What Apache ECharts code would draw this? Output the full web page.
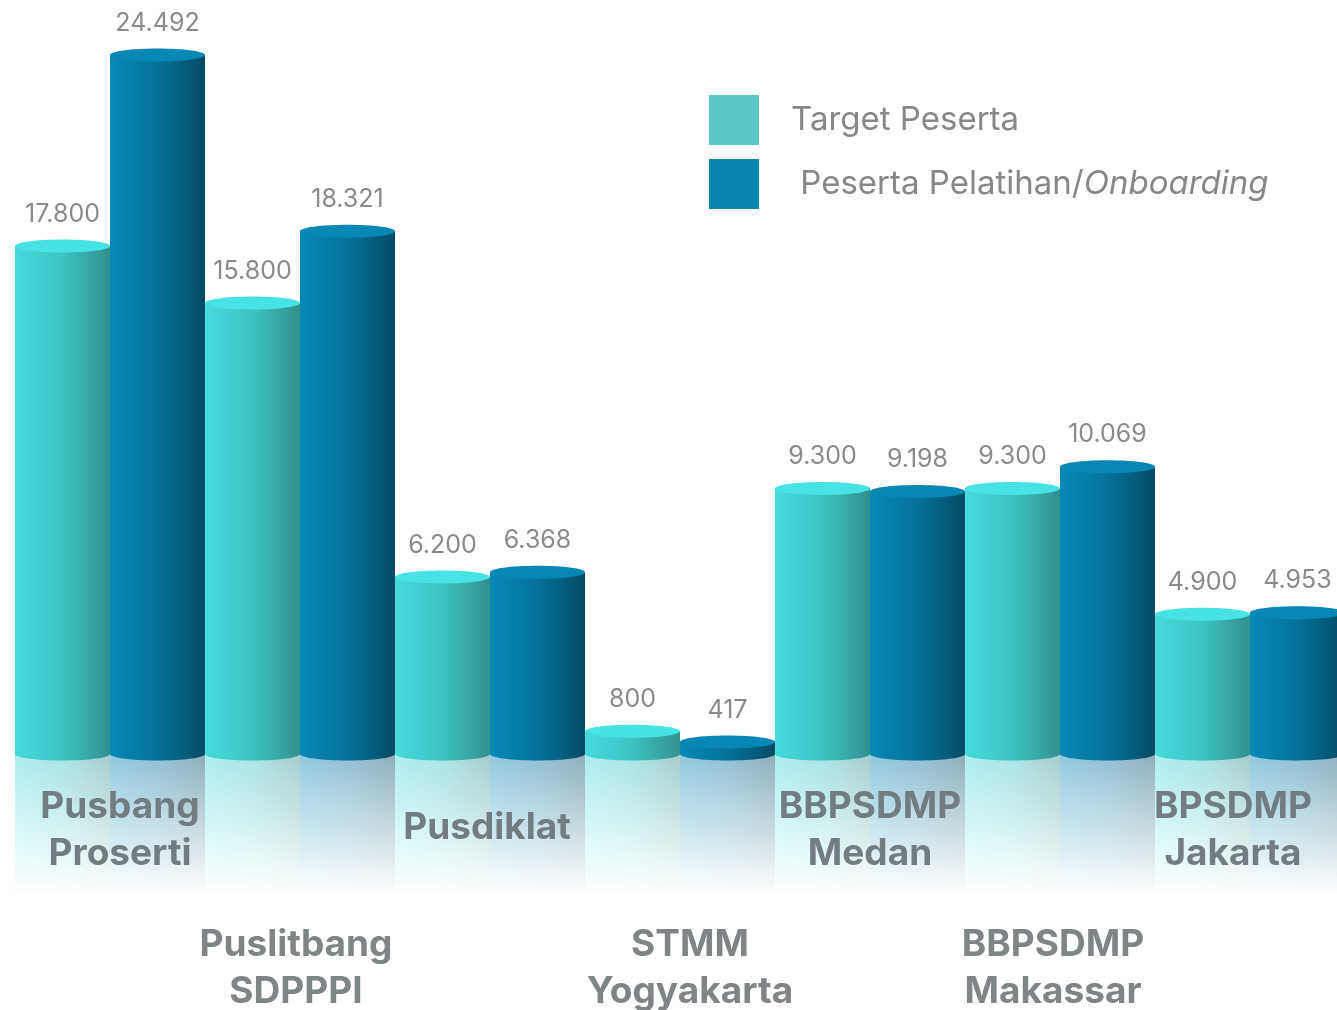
<!DOCTYPE html>
<html>
<head>
<meta charset="utf-8">
<script src="https://cdn.jsdelivr.net/npm/echarts@6/dist/echarts.min.js"></script>
<style>
html,body{margin:0;padding:0;background:#fff;}
#main{width:1337px;height:1010px;}
</style>
</head>
<body>
<div id="main"></div>
<script>
var categories = ['Pusbang\nProserti', 'Puslitbang\nSDPPPI', 'Pusdiklat', 'STMM\nYogyakarta', 'BBPSDMP\nMedan', 'BBPSDMP\nMakassar', 'BPSDMP\nJakarta'];
var seriesNames = ['Target Peserta', 'Peserta Pelatihan/Onboarding'];
var targetValues = [17800, 15800, 6200, 800, 9300, 9300, 4900];
var pesertaValues = [24492, 18321, 6368, 417, 9198, 10069, 4953];

var FONT = 'Inter, "Open Sans", sans-serif';
// horizontal nudge (px) of each category label, layout only
var LABEL_NUDGE = [10, -4, -3, 10, 0, -7, -17];

function fmt(v) {
  var s = String(Math.round(v));
  return s.replace(/\B(?=(\d{3})+(?!\d))/g, '.');
}

var palettes = [
  { body: [['#46dadd', 0], ['#3cc3c4', 0.5], ['#33908d', 1]], top: '#47e2e5', legend: '#5bc5c9' },
  { body: [['#0789b7', 0], ['#05739b', 0.5], ['#044a65', 1]], top: '#0687b4', legend: '#0784b0' }
];

function grad(stops, alpha) {
  return {
    type: 'linear', x: 0, y: 0, x2: 1, y2: 0,
    colorStops: stops.map(function (s) {
      var c = s[0];
      if (alpha !== undefined) {
        var r = parseInt(c.substr(1, 2), 16), g = parseInt(c.substr(3, 2), 16), b = parseInt(c.substr(5, 2), 16);
        c = 'rgba(' + r + ',' + g + ',' + b + ',' + alpha + ')';
      }
      return { offset: s[1], color: c };
    })
  };
}

function makeRender(si) {
  var pal = palettes[si];
  return function (params, api) {
    var idx = api.value(0), val = api.value(1);
    var topPt = api.coord([idx, val]);
    var basePt = api.coord([idx, 0]);
    var band = api.size([1, 0])[0];
    var w = band / 2;
    var x = topPt[0] - band / 2 + si * w;
    var cx = x + w / 2;
    var ry = 6.5;
    var yTop = topPt[1], yBase = basePt[1];
    var reflH = 140;
    return {
      type: 'group',
      children: [
        { type: 'rect', shape: { x: x, y: yBase, width: w, height: reflH }, style: { fill: grad(pal.body, 0.45) } },
        { type: 'rect', shape: { x: x, y: yBase, width: w, height: reflH + 1 },
          style: { fill: { type: 'linear', x: 0, y: 0, x2: 0, y2: 1, colorStops: [
            { offset: 0, color: 'rgba(255,255,255,0)' },
            { offset: 1, color: 'rgba(255,255,255,1)' }] } } },
        { type: 'ellipse', shape: { cx: cx, cy: yBase, rx: w / 2, ry: ry }, style: { fill: grad(pal.body) } },
        { type: 'rect', shape: { x: x, y: yTop, width: w, height: yBase - yTop }, style: { fill: grad(pal.body) } },
        { type: 'ellipse', shape: { cx: cx, cy: yTop, rx: w / 2, ry: ry }, style: { fill: pal.top } },
        { type: 'text', style: { text: fmt(val), x: cx, y: yTop - 32, align: 'center', verticalAlign: 'middle',
          font: '400 25px ' + FONT, fill: '#8a8a8a' } }
      ]
    };
  };
}

function labelFmt(v, i) {
  var n = LABEL_NUDGE[i] || 0;
  var sfx = n > 0 ? 'R' + n : (n < 0 ? 'L' + (-n) : '');
  if (v.indexOf('\n') < 0) return '{s' + sfx + '|' + v + '}';
  return v.split('\n').map(function (l) { return '{d' + sfx + '|' + l + '}'; }).join('\n');
}

function buildRich(color) {
  var rich = {};
  var base = { fontSize: 37, fontWeight: 'bold', fontFamily: FONT, color: color, align: 'center' };
  LABEL_NUDGE.concat([0]).forEach(function (n) {
    var sfx = n > 0 ? 'R' + n : (n < 0 ? 'L' + (-n) : '');
    var pad = n > 0 ? [0, 0, 0, 2 * n] : (n < 0 ? [0, -2 * n, 0, 0] : [0, 0, 0, 0]);
    rich['d' + sfx] = Object.assign({}, base, { lineHeight: 47, padding: pad });
    rich['s' + sfx] = Object.assign({}, base, { lineHeight: 90, padding: pad });
  });
  return rich;
}

function xAxisCfg(even, margin, color) {
  return {
    type: 'category',
    data: categories,
    position: 'bottom',
    z: 10,
    axisLine: { show: false },
    axisTick: { show: false },
    axisLabel: {
      interval: function (i) { return (i % 2 === 0) === even; },
      margin: margin,
      formatter: labelFmt,
      hideOverlap: false,
      rich: buildRich(color)
    }
  };
}

var chart = echarts.init(document.getElementById('main'));
chart.setOption({
  backgroundColor: '#ffffff',
  animation: false,
  grid: { left: 15, top: 12, width: 1330, height: 742, outerBoundsMode: 'none', containLabel: false },
  legend: {
    data: seriesNames,
    orient: 'vertical',
    left: 704,
    top: 90,
    itemWidth: 50,
    itemHeight: 50,
    itemGap: 14,
    icon: 'rect',
    formatter: function (n) {
      return n === 'Peserta Pelatihan/Onboarding' ? ' Peserta Pelatihan/{i|Onboarding}' : n;
    },
    textStyle: {
      fontSize: 33, color: '#878787', fontFamily: FONT, padding: [0, 0, 0, 27],
      rich: { i: { fontSize: 33, color: '#878787', fontFamily: FONT, fontStyle: 'italic' } }
    }
  },
  xAxis: [xAxisCfg(true, 29, '#737d81'), xAxisCfg(false, 167, '#7f8487')],
  yAxis: { type: 'value', min: 0, max: 26000, show: false },
  series: [0, 1].map(function (si) {
    var vals = si === 0 ? targetValues : pesertaValues;
    return {
      type: 'custom',
      name: seriesNames[si],
      xAxisIndex: 0,
      itemStyle: { color: palettes[si].legend },
      encode: { x: 0, y: 1 },
      data: vals.map(function (v, i) { return [i, v]; }),
      renderItem: makeRender(si)
    };
  })
});
</script>
</body>
</html>
